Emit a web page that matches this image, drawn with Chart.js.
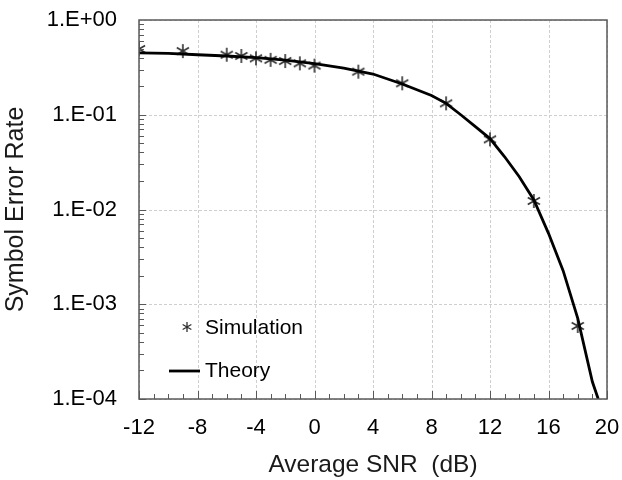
<!DOCTYPE html>
<html>
<head>
<meta charset="utf-8">
<script src="https://cdn.jsdelivr.net/npm/chart.js@4/dist/chart.umd.min.js"></script>
<style>
  html, body { margin: 0; padding: 0; background: #fff; }
  #wrap { width: 622px; height: 480px; }
</style>
</head>
<body>
<div id="wrap"><canvas id="ser"></canvas></div>
<script>
// Simulated symbol error rate vs average SNR (dB)
const simSnr = [-12, -9, -6, -5, -4, -3, -2, -1, 0, 3, 6, 9, 12, 15, 18];
const simSer = [0.494, 0.47, 0.43, 0.417, 0.394, 0.38, 0.369, 0.349, 0.33, 0.285, 0.215, 0.132, 0.055, 0.0123, 0.00059];

// Theory curve
const thSnr = [-12, -10, -8, -6, -4, -2, 0, 2, 4, 6, 8, 9, 10, 11, 12, 13, 14, 15, 16, 17, 18, 19, 19.4];
const thSer = [0.45, 0.445, 0.43, 0.417, 0.40, 0.378, 0.346, 0.31, 0.269, 0.211, 0.16, 0.132, 0.1, 0.075, 0.056, 0.036, 0.0222, 0.0126, 0.0056, 0.00226, 0.00071, 0.000152, 0.0001];

const yDecades = [1e-4, 1e-3, 1e-2, 1e-1, 1];
const xTicks = [-12, -8, -4, 0, 4, 8, 12, 16, 20];

const FONT = "'Liberation Sans', Arial, sans-serif";
const AXIS = '#595959';

// asterisk marker (X with a vertical bar), like the Excel one
function asterisk(size, color, lw) {
  const c = document.createElement('canvas');
  c.width = size; c.height = size;
  const g = c.getContext('2d');
  const m = size / 2, r = size / 2 - 1;
  g.strokeStyle = color;
  g.lineWidth = lw;
  g.beginPath();
  g.moveTo(m, m - r); g.lineTo(m, m + r);
  g.moveTo(m - r * 0.87, m - r * 0.5); g.lineTo(m + r * 0.87, m + r * 0.5);
  g.moveTo(m - r * 0.87, m + r * 0.5); g.lineTo(m + r * 0.87, m - r * 0.5);
  g.stroke();
  return c;
}
const starMark = asterisk(16, '#303030', 1.6);
const starSmall = asterisk(12, '#303030', 1.3);

// dashed grid behind the data
const dashedGrid = {
  id: 'dashedGrid',
  beforeDatasetsDraw(chart) {
    const { ctx, chartArea: a, scales: { x, y } } = chart;
    ctx.save();
    ctx.strokeStyle = '#cfcfcf';
    ctx.lineWidth = 1;
    ctx.setLineDash([3, 2]);
    ctx.beginPath();
    xTicks.forEach(v => {
      const px = Math.round(x.getPixelForValue(v)) + 0.5;
      ctx.moveTo(px, a.top); ctx.lineTo(px, a.bottom);
    });
    yDecades.forEach(v => {
      const py = Math.round(y.getPixelForValue(v)) + 0.5;
      ctx.moveTo(a.left, py); ctx.lineTo(a.right, py);
    });
    ctx.stroke();
    ctx.restore();
  }
};

// frame, inward minor ticks and the in-plot legend
const frameAndLegend = {
  id: 'frameAndLegend',
  afterDatasetsDraw(chart) {
    const { ctx, chartArea: a, scales: { x, y } } = chart;
    ctx.save();
    ctx.strokeStyle = AXIS;
    ctx.lineWidth = 1.5;
    ctx.strokeRect(a.left, a.top, a.right - a.left, a.bottom - a.top);

    ctx.lineWidth = 1;
    ctx.beginPath();
    for (let d = -4; d <= -1; d++) {
      for (let k = 1; k <= 9; k++) {
        const py = Math.round(y.getPixelForValue(k * Math.pow(10, d))) + 0.5;
        ctx.moveTo(a.left, py);
        ctx.lineTo(a.left + (k === 1 ? 7 : 5), py);
      }
    }
    for (let v = -12; v <= 20; v++) {
      const px = Math.round(x.getPixelForValue(v)) + 0.5;
      ctx.moveTo(px, a.bottom);
      ctx.lineTo(px, a.bottom - (v % 4 === 0 ? 8 : 5));
    }
    ctx.stroke();

    // legend
    const lx = a.left + 30, ly1 = a.top + 307, ly2 = a.top + 351;
    ctx.drawImage(starSmall, lx + 18 - 6, ly1 - 6);
    ctx.strokeStyle = '#000';
    ctx.lineWidth = 2.8;
    ctx.beginPath();
    ctx.moveTo(lx, ly2);
    ctx.lineTo(lx + 31, ly2);
    ctx.stroke();
    ctx.fillStyle = '#000';
    ctx.font = '21px ' + FONT;
    ctx.textBaseline = 'middle';
    ctx.fillText('Simulation', lx + 36, ly1 + 1);
    ctx.fillText('Theory', lx + 36, ly2);
    ctx.restore();
  }
};

new Chart(document.getElementById('ser'), {
  type: 'scatter',
  data: {
    datasets: [
      {
        label: 'Theory',
        data: thSnr.map((v, i) => ({ x: v, y: thSer[i] })),
        showLine: true,
        borderColor: '#000',
        borderWidth: 2.8,
        pointRadius: 0,
        tension: 0
      },
      {
        label: 'Simulation',
        data: simSnr.map((v, i) => ({ x: v, y: simSer[i] })),
        showLine: false,
        pointStyle: starMark,
        pointRadius: 8
      }
    ]
  },
  options: {
    responsive: true,
    maintainAspectRatio: false,
    animation: false,
    layout: { padding: { top: 20, right: 15, left: 0, bottom: 0 } },
    plugins: {
      legend: { display: false },
      tooltip: { enabled: false }
    },
    scales: {
      x: {
        type: 'linear',
        min: -12, max: 20,
        afterBuildTicks: (s) => { s.ticks = xTicks.map(v => ({ value: v })); },
        afterFit: (s) => { s.height = 81; s.paddingLeft = 0; s.paddingRight = 0; },
        grid: { display: false, drawTicks: false },
        border: { display: false },
        ticks: { color: '#000', font: { family: FONT, size: 22 }, padding: 16 },
        title: {
          display: true, text: 'Average SNR  (dB)', color: '#1a1a1a',
          font: { family: FONT, size: 24.5 }, padding: { top: 0, bottom: 0 }
        }
      },
      y: {
        type: 'logarithmic',
        min: 1e-4, max: 1,
        afterBuildTicks: (s) => { s.ticks = yDecades.map(v => ({ value: v })); },
        afterFit: (s) => { s.width = 139; s.paddingTop = 0; s.paddingBottom = 0; },
        grid: { display: false, drawTicks: false },
        border: { display: false },
        ticks: {
          color: '#000', font: { family: FONT, size: 22 }, padding: 22,
          callback: (v) => {
            const e = Math.round(Math.log10(v));
            return '1.E' + (e < 0 ? '-' : '+') + String(Math.abs(e)).padStart(2, '0');
          }
        },
        title: {
          display: true, text: 'Symbol Error Rate', color: '#1a1a1a',
          font: { family: FONT, size: 25 }, padding: { top: 1, bottom: 0 }
        }
      }
    }
  },
  plugins: [dashedGrid, frameAndLegend]
});
</script>
</body>
</html>
